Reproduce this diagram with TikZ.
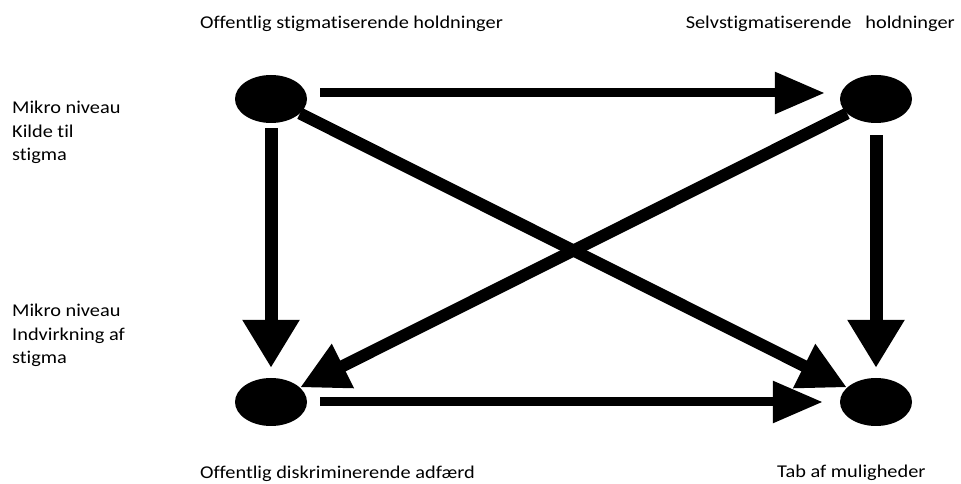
\documentclass[tikz,border=0pt]{standalone}
\usepackage{fontspec}
\setmainfont{Carlito}[FakeStretch=1.13, RawFeature=-liga]
\usepackage{tikz}
\usetikzlibrary{arrows.meta, shapes.geometric}

\tikzset{
  punkt/.style={ellipse, fill=black, minimum width=72pt, minimum height=48pt, inner sep=0pt},
  pil/.style={line width=9pt, -{Triangle[length=50pt, width=40pt]}},
  lodret/.style={pil, line width=13pt, -{Triangle[length=48pt, width=54pt]}},
  skraa/.style={pil, line width=12pt, -{Triangle[length=48pt, width=46pt]}},
  tekst/.style={font=\fontsize{18}{23.5}\selectfont, inner sep=0pt, align=left},
}

\begin{document}
\begin{tikzpicture}[x=1pt, y=1pt]
  \useasboundingbox (0,0) rectangle (961,484);

  % De fire punkter
  \node[punkt] (oh) at (271,385) {};
  \node[punkt] (sh) at (876,385) {};
  \node[punkt] (da) at (271,82) {};
  \node[punkt] (tm) at (876,82) {};

  % Pile mellem punkterne
  \draw[pil] ([shift={(13pt,6pt)}]oh.east) -- ([shift={(-15pt,6pt)}]sh.west);
  \draw[pil] ([xshift=13pt]da.east) -- ([xshift=-17pt]tm.west);
  \draw[lodret, shorten <=5pt, shorten >=10pt] (oh) -- (da);
  \draw[lodret, shorten <=12pt, shorten >=10pt] (sh) -- (tm);
  \draw[skraa] (oh) -- (tm);
  \draw[skraa] (sh) -- (da);

  % Tekster
  \node[tekst, anchor=base west] (t1) at (200,455) {Offentlig stigmatiserende holdninger};
  \node[tekst, anchor=base east] (t2) at (955,455) {Selvstigmatiserende\ \ \ holdninger};
  \node[tekst, anchor=base west] (t3) at (200,5) {Offentlig diskriminerende adfærd};
  \node[tekst, anchor=base west] (t4) at (777,6) {Tab af muligheder};
  \node[tekst, anchor=north west] (m1) at (12,383) {Mikro niveau\\Kilde til\\stigma};
  \node[tekst, anchor=north west] (m2) at (12,180) {Mikro niveau\\Indvirkning af\\stigma};
\end{tikzpicture}
\end{document}
